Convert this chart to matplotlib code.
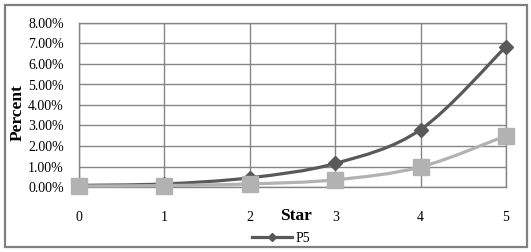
import matplotlib
matplotlib.use("Agg")
import matplotlib.pyplot as plt
from matplotlib.path import Path
from matplotlib.patches import PathPatch, Rectangle
from matplotlib.lines import Line2D
import numpy as np

stars = [0, 1, 2, 3, 4, 5]
p5 = [0.08, 0.15, 0.45, 1.15, 2.80, 6.85]
p_other = [0.05, 0.07, 0.15, 0.35, 0.98, 2.50]
yticks = [0, 1, 2, 3, 4, 5, 6, 7, 8]

plt.rcParams['font.family'] = ['Liberation Serif', 'DejaVu Serif']

W, H = 531, 252
fig = plt.figure(figsize=(W / 100, H / 100), dpi=100)
ax = fig.add_axes([79 / W, 65 / H, (506 - 79) / W, (187 - 23) / H])

dark = '#595959'
light = '#B2B2B2'
grid = '#868686'


def smooth_path(xs, ys):
    xs = np.asarray(xs, float)
    ys = np.asarray(ys, float)
    n = len(xs)
    verts = [(xs[0], ys[0])]
    codes = [Path.MOVETO]
    for i in range(n - 1):
        x0, y0 = (xs[i - 1], ys[i - 1]) if i > 0 else (xs[i], ys[i])
        x3, y3 = (xs[i + 2], ys[i + 2]) if i + 2 < n else (xs[i + 1], ys[i + 1])
        c1 = (xs[i] + (xs[i + 1] - x0) / 6, ys[i] + (ys[i + 1] - y0) / 6)
        c2 = (xs[i + 1] - (x3 - xs[i]) / 6, ys[i + 1] - (y3 - ys[i]) / 6)
        verts += [c1, c2, (xs[i + 1], ys[i + 1])]
        codes += [Path.CURVE4] * 3
    return Path(verts, codes)


ax.add_patch(PathPatch(smooth_path(stars, p5), fill=False, edgecolor=dark,
                       lw=2.3, clip_on=False, zorder=3))
ax.plot(stars, p5, ls='none', marker='D', ms=7.5, color=dark, clip_on=False, zorder=4)
ax.add_patch(PathPatch(smooth_path(stars, p_other), fill=False, edgecolor=light,
                       lw=2.3, clip_on=False, zorder=5))
ax.plot(stars, p_other, ls='none', marker='s', ms=11.5, color=light, clip_on=False, zorder=6)

ax.set_xlim(0, 5)
ax.set_ylim(0, 8)
ax.set_xticks(stars)
ax.set_yticks(yticks)
ax.set_yticklabels([f'{v:.2f}%' for v in yticks])
ax.grid(True, color=grid, lw=1)
ax.set_axisbelow(True)
for s in ax.spines.values():
    s.set_color(grid)
    s.set_linewidth(1)
ax.tick_params(axis='x', length=0, pad=17, labelsize=10, colors='black')
ax.tick_params(axis='y', length=0, pad=11, labelsize=10, colors='black')

fig.text(18 / W, 1 - 113 / H, 'Percent', rotation=90, fontsize=12.5,
         fontweight='bold', ha='center', va='center')
fig.text(296 / W, 1 - 216 / H, 'Star', fontsize=12.5, fontweight='bold',
         ha='center', va='center')

handle = Line2D([], [], color=dark, lw=2.3, marker='D', ms=4)
fig.legend([handle], ['P5'], loc='center', bbox_to_anchor=(281 / W, 1 - 238 / H),
           frameon=False, fontsize=10, handlelength=2.9, handletextpad=0.2,
           borderpad=0, borderaxespad=0)

fig.add_artist(Rectangle((5 / W, 5 / H), (527 - 5) / W, (247 - 5) / H,
                         transform=fig.transFigure, fill=False,
                         edgecolor='#808080', lw=1.6))

fig.savefig('out.png', dpi=100)
